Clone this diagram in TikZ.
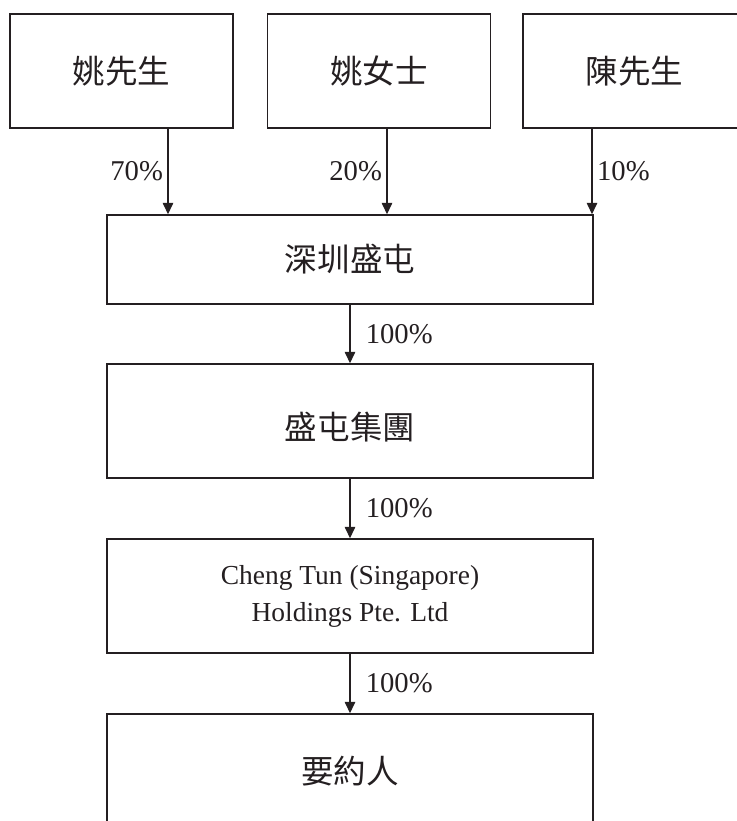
\documentclass[tikz,border=0pt]{standalone}
\usepackage{fontspec}
\setmainfont{Liberation Serif}
\newfontfamily\cjk{Noto Sans CJK TC}
\usetikzlibrary{arrows.meta}
\definecolor{InkGrey}{rgb}{0.14,0.12,0.13}

\begin{document}
\begin{tikzpicture}[x=0.75pt,y=-0.75pt,
  box/.style={draw=InkGrey,line width=1.1pt,minimum width=364.5pt,minimum height=85.5pt,
    text=InkGrey,font=\fontsize{20.6}{27.8}\selectfont},
  cn/.style={font=\fontsize{24.4}{30}\selectfont\cjk},
  topbox/.style={minimum width=167.25pt},
  arr/.style={draw=InkGrey,line width=1pt,-{Triangle[width=7.8pt,length=8.5pt]}},
  pct/.style={text=InkGrey,font=\fontsize{21.5}{24}\selectfont}]
\useasboundingbox (0,0) rectangle (736,821);

% shareholders
\node[box,cn,topbox] (mryao) at (121.5,71) {姚先生};
\node[box,cn,topbox] (msyao) at (379,71) {姚女士};
\node[box,cn,topbox] (mrchen) at (634.5,71) {陳先生};

% holding chain
\node[box,cn,minimum height=66.75pt] (sz) at (350,259.5) {深圳盛屯};
\node[box,cn,text height=30pt] (grp) at (350,421) {盛屯集團};
\node[box,align=center] (ct) at (350,596) {Cheng Tun (Singapore)\\ Holdings Pte. Ltd};
\node[box,cn] (offeror) at (350,771) {要約人};

\path (mryao.south) ++(46.5,0) coordinate (a70);
\path (msyao.south) ++(8,0) coordinate (a20);
\path (mrchen.south) ++(-42.5,0) coordinate (a10);

\draw[arr] (a70) -- (a70 |- sz.north) node[pct,midway,left] {70\%};
\draw[arr] (a20) -- (a20 |- sz.north) node[pct,midway,left] {20\%};
\draw[arr] (a10) -- (a10 |- sz.north) node[pct,midway,right] {10\%};

\draw[arr] (sz) -- (grp) node[pct,midway,right,xshift=8pt] {100\%};
\draw[arr] (grp) -- (ct) node[pct,midway,right,xshift=8pt] {100\%};
\draw[arr] (ct) -- (offeror) node[pct,midway,right,xshift=8pt] {100\%};
\end{tikzpicture}
\end{document}
